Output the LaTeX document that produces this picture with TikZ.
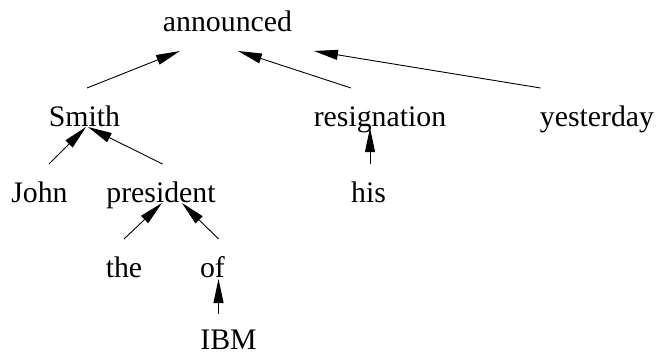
\documentclass[tikz,border=0pt]{standalone}
\usepackage{fontspec}
\setmainfont{Liberation Serif}
\usetikzlibrary{arrows.meta,calc}
\begin{document}
\begin{tikzpicture}[x=1pt,y=-1pt,
  word/.style={anchor=base,inner sep=0pt,font=\fontsize{29.8}{36}\selectfont},
  arr/.style={-{Triangle[length=24pt,width=10pt]},line width=0.9pt}]
\useasboundingbox (0,0) rectangle (658,353);
\node[word] (announced) at (227.5,32) {announced};
\node[word] (smith) at (84.5,126) {Smith};
\node[word] (resignation) at (380,126) {resignation};
\node[word] (yesterday) at (597,126) {yesterday};
\node[word] (john) at (39.5,202) {John};
\node[word] (president) at (161,202) {president};
\node[word] (his) at (368.5,202) {his};
\node[word] (the) at (124,277) {the};
\node[word] (of) at (212.5,277) {of};
\node[word] (ibm) at (228.5,349) {IBM};
% connectors (tail near dependent, tip near head)
\draw[arr] ($(smith.base)+(2.5,-38)$) -- ($(announced.base)+(-47.5,19)$);
\draw[arr] ($(resignation.base)+(-29,-38)$) -- ($(announced.base)+(10.5,19)$);
\draw[arr] ($(yesterday.base)+(-56.5,-38)$) -- ($(announced.base)+(86.5,19)$);
\draw[arr] ($(john.base)+(9.5,-38)$) -- ($(smith.base)+(1.5,1)$);
\draw[arr] ($(president.base)+(1.5,-38)$) -- ($(smith.base)+(3.5,1)$);
\draw[arr] ($(his.base)+(1.5,-38)$) -- ($(resignation.base)+(-10,2)$);
\draw[arr] ($(the.base)+(0,-38)$) -- ($(president.base)+(1,1)$);
\draw[arr] ($(of.base)+(6,-38)$) -- ($(president.base)+(21,1)$);
\draw[arr] ($(ibm.base)+(-10,-35)$) -- ($(of.base)+(6,2)$);
\end{tikzpicture}
\end{document}
